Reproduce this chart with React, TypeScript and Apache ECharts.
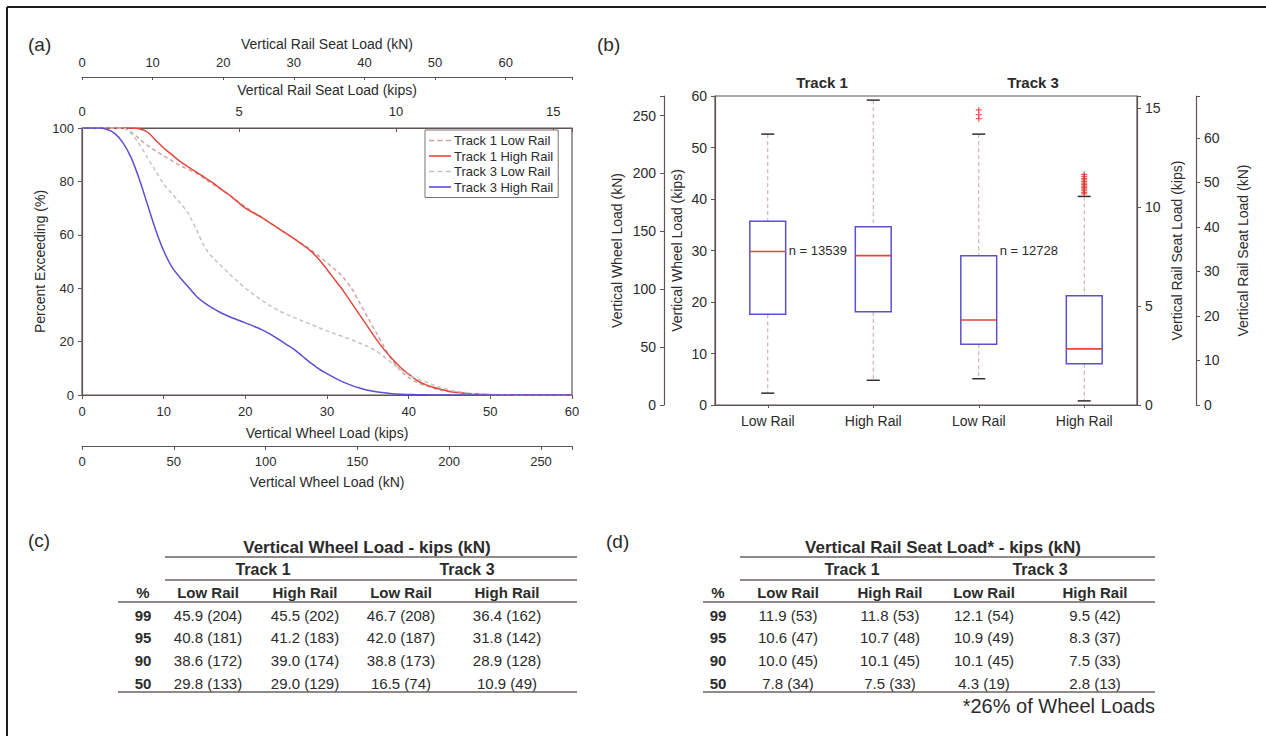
import React, { useEffect, useRef } from 'react';
import * as echarts from 'echarts';

// Unit conversions used by the secondary axes
const KN_PER_KIP = 4.448;
const SEAT_SHARE = 0.26; // rail seat load as a share of the wheel load
const WHEEL_MAX_KIPS = 60;

// (a) exceedance curves, sampled every kip: [wheel load (kips), percent exceeding]
const track1LowRail: [number, number][] = [
  [0, 100], [1, 100], [2, 100], [3, 100], [4, 100], [5, 100], [6, 98.5], [7, 96], [8, 93.5],
  [9, 91.5], [10, 89.5], [11, 87.8], [12, 86], [13, 84.5], [14, 83], [15, 81], [16, 79],
  [17, 77], [18, 75], [19, 72.7], [20, 70.5], [21, 68.5], [22, 66.5], [23, 64.5], [24, 62.5],
  [25, 60.5], [26, 58.5], [27, 56.5], [28, 54.5], [29, 52], [30, 49.5], [31, 47], [32, 44],
  [33, 40], [34, 34.5], [35, 29], [36, 23.5], [37, 18], [38, 13], [39, 9.2], [40, 6.5],
  [41, 4.8], [42, 3.6], [43, 2.6], [44, 1.8], [45, 1.3], [46, 0.95], [47, 0.7], [48, 0.45],
  [49, 0.25], [50, 0.1], [51, 0.05], [52, 0.02], [53, 0], [54, 0], [55, 0], [60, 0],
];
const track1HighRail: [number, number][] = [
  [0, 100], [1, 100], [2, 100], [3, 100], [4, 100], [5, 100], [6, 100], [7, 99.7], [8, 98.5],
  [9, 95.5], [10, 92.5], [11, 90], [12, 87.5], [13, 85.4], [14, 83.5], [15, 81.5], [16, 79.5],
  [17, 77.2], [18, 75], [19, 72.5], [20, 70], [21, 68.2], [22, 66.5], [23, 64.5], [24, 62.5],
  [25, 60.5], [26, 58.5], [27, 56.3], [28, 54], [29, 50.8], [30, 47], [31, 43], [32, 39],
  [33, 34.5], [34, 30], [35, 25.5], [36, 21], [37, 17], [38, 13.5], [39, 10.3], [40, 7.8],
  [41, 5.5], [42, 4], [43, 2.9], [44, 2.1], [45, 1.3], [46, 0.9], [47, 0.6], [48, 0.4],
  [49, 0.25], [50, 0.15], [51, 0.08], [52, 0.04], [53, 0], [54, 0], [55, 0], [60, 0],
];
const track3LowRail: [number, number][] = [
  [0, 100], [1, 100], [2, 100], [3, 100], [4, 100], [5, 100], [6, 98], [7, 94], [8, 89],
  [9, 84], [10, 79], [11, 75.5], [12, 72], [13, 68], [14, 62], [15, 55.5], [16, 51.5],
  [17, 48.5], [18, 45.5], [19, 42.7], [20, 40], [21, 37.7], [22, 35.5], [23, 33.5], [24, 31.7],
  [25, 30.3], [26, 29], [27, 27.7], [28, 26.5], [29, 25.2], [30, 24], [31, 22.9], [32, 21.8],
  [33, 20.7], [34, 19.5], [35, 18.1], [36, 16.5], [37, 14.3], [38, 11.8], [39, 9.6], [40, 7.5],
  [41, 6.1], [42, 5], [43, 3.8], [44, 2.7], [45, 1.9], [46, 1.3], [47, 0.9], [48, 0.5],
  [49, 0.3], [50, 0.2], [51, 0.1], [52, 0.05], [53, 0], [54, 0], [55, 0], [60, 0],
];
const track3HighRail: [number, number][] = [
  [0, 100], [1, 100], [2, 100], [3, 99.5], [4, 98], [5, 94.5], [6, 89], [7, 81], [8, 71.5],
  [9, 62], [10, 54], [11, 48], [12, 44], [13, 40.5], [14, 37], [15, 34.5], [16, 32.5],
  [17, 30.8], [18, 29.4], [19, 28.2], [20, 27], [21, 25.8], [22, 24.5], [23, 22.9], [24, 21],
  [25, 19], [26, 17], [27, 14.5], [28, 12], [29, 9.8], [30, 8], [31, 6.3], [32, 4.8],
  [33, 3.6], [34, 2.6], [35, 1.8], [36, 1.2], [37, 0.8], [38, 0.5], [39, 0.3], [40, 0.2],
  [41, 0.1], [42, 0.05], [43, 0], [44, 0], [45, 0], [50, 0], [55, 0], [60, 0],
];
const curveNames = ['Track 1 Low Rail', 'Track 1 High Rail', 'Track 3 Low Rail', 'Track 3 High Rail'];

// (b) box plots in kips: [min, Q1, median, Q3, max]
const boxCategories = ['Track 1 Low Rail', 'Track 1 High Rail', 'Track 3 Low Rail', 'Track 3 High Rail'];
const boxStats: number[][] = [
  [2.3, 17.6, 29.8, 35.7, 52.6],
  [4.8, 18.1, 29.0, 34.6, 59.2],
  [5.1, 11.8, 16.5, 29.0, 52.6],
  [0.8, 8.0, 10.9, 21.2, 40.5],
];
const sampleSizes = ['n = 13539', '', 'n = 12728', ''];
const sampleLabelLevel = 30; // kips
const outliers: [number, number][] = [
  [2, 55.6], [2, 56.4], [2, 57.3],
  [3, 41.0], [3, 41.3], [3, 41.6], [3, 41.9], [3, 42.2], [3, 42.5], [3, 42.8], [3, 43.1],
  [3, 43.4], [3, 43.7], [3, 44.0], [3, 44.4], [3, 44.8],
];

// (c) and (d) percentile tables
const percentiles = ['99', '95', '90', '50'];
const tableTracks = ['Track 1', 'Track 3'];
const tableRails = ['Low Rail', 'High Rail', 'Low Rail', 'High Rail'];
const wheelLoadRows = [
  ['45.9 (204)', '45.5 (202)', '46.7 (208)', '36.4 (162)'],
  ['40.8 (181)', '41.2 (183)', '42.0 (187)', '31.8 (142)'],
  ['38.6 (172)', '39.0 (174)', '38.8 (173)', '28.9 (128)'],
  ['29.8 (133)', '29.0 (129)', '16.5 (74)', '10.9 (49)'],
];
const seatLoadRows = [
  ['11.9 (53)', '11.8 (53)', '12.1 (54)', '9.5 (42)'],
  ['10.6 (47)', '10.7 (48)', '10.9 (49)', '8.3 (37)'],
  ['10.0 (45)', '10.1 (45)', '10.1 (45)', '7.5 (33)'],
  ['7.8 (34)', '7.5 (33)', '4.3 (19)', '2.8 (13)'],
];

const FONT = '"Liberation Sans", Arial, sans-serif';
const AXIS = '#5f5553';
const TEXT = '#2b2b2b';
const RED = '#e4473d';
const BLUE = '#5b50d2';

// legend swatches: a plain stroke and a dashed stroke
const SOLID_ICON = 'path://M0,0H22V1.6H0Z';
const DASHED_ICON = 'path://M0,0H5V1.6H0Z M8,0H13V1.6H8Z M16,0H21V1.6H16Z';

const stepFormatter = (step: number) => (v: number) =>
  Math.abs(v / step - Math.round(v / step)) < 1e-6 ? String(Math.round(v)) : '';

function valueAxis(extra: any) {
  return {
    type: 'value',
    splitLine: { show: false },
    axisLine: { show: true, lineStyle: { color: AXIS, width: 1.2 } },
    axisTick: { show: true, length: 4, lineStyle: { color: AXIS } },
    axisLabel: { color: TEXT, fontSize: 13, fontFamily: FONT },
    nameTextStyle: { color: TEXT, fontSize: 14, fontFamily: FONT },
    nameLocation: 'middle',
    ...extra,
  };
}

function txt(x: number, y: number, text: string, size: number, opts: any = {}) {
  return {
    type: 'text',
    x,
    y,
    silent: true,
    style: {
      text,
      fill: TEXT,
      font: `${opts.bold ? 'bold ' : ''}${size}px ${FONT}`,
      align: opts.align || 'center',
      verticalAlign: 'middle',
    },
  };
}

function hline(x1: number, x2: number, y: number) {
  return {
    type: 'line',
    silent: true,
    shape: { x1, y1: y, x2, y2: y },
    style: { stroke: '#6a6260', lineWidth: 1.5 },
  };
}

type TableLayout = {
  title: string;
  titleX: number;
  pctX: number;
  colX: number[];
  trackX: number[];
  innerLeft: number;
  outerLeft: number;
  right: number;
  rows: string[][];
};

function buildTable(t: TableLayout) {
  const els: any[] = [];
  const rowY = [615, 637, 660, 683];
  els.push(txt(t.titleX, 547, t.title, 17, { bold: true }));
  els.push(hline(t.innerLeft, t.right, 557));
  tableTracks.forEach((name, i) => els.push(txt(t.trackX[i], 569, name, 16, { bold: true })));
  els.push(hline(t.innerLeft, t.right, 580));
  els.push(txt(t.pctX, 592, '%', 15, { bold: true }));
  tableRails.forEach((name, i) => els.push(txt(t.colX[i], 592, name, 15, { bold: true })));
  els.push(hline(t.outerLeft, t.right, 602));
  percentiles.forEach((p, r) => {
    els.push(txt(t.pctX, rowY[r], p, 15, { bold: true }));
    t.rows[r].forEach((cell, c) => els.push(txt(t.colX[c], rowY[r], cell, 15)));
  });
  els.push(hline(t.outerLeft, t.right, 692));
  return els;
}

export default function App() {
  const ref = useRef<HTMLDivElement>(null);

  useEffect(() => {
    document.body.style.margin = '0';
    if (!ref.current) return;
    const chart = echarts.init(ref.current, undefined, { renderer: 'svg' });

    const wheelMaxKN = WHEEL_MAX_KIPS * KN_PER_KIP;
    const seatMaxKips = WHEEL_MAX_KIPS * SEAT_SHARE;
    const seatMaxKN = seatMaxKips * KN_PER_KIP;

    const curveStyles = [
      { color: '#cfa3a3', type: [4, 3], icon: DASHED_ICON },
      { color: RED, type: 'solid', icon: SOLID_ICON },
      { color: '#c4c4c4', type: [4, 3], icon: DASHED_ICON },
      { color: BLUE, type: 'solid', icon: SOLID_ICON },
    ];
    const curves = [track1LowRail, track1HighRail, track3LowRail, track3HighRail];

    const option: any = {
      animation: false,
      backgroundColor: '#ffffff',
      textStyle: { fontFamily: FONT },
      grid: [
        { left: 82, top: 128, width: 490, height: 267, show: true, borderColor: AXIS, borderWidth: 1.2, backgroundColor: 'transparent' },
        { left: 715, top: 96, width: 422, height: 309, show: true, borderColor: AXIS, borderWidth: 1.2, backgroundColor: 'transparent' },
      ],
      xAxis: [
        valueAxis({
          gridIndex: 0, position: 'bottom', min: 0, max: WHEEL_MAX_KIPS, interval: 10,
          name: 'Vertical Wheel Load (kips)', nameGap: 31,
          axisLabel: { color: TEXT, fontSize: 13, fontFamily: FONT, margin: 10 },
        }),
        valueAxis({
          gridIndex: 0, position: 'bottom', offset: 51, min: 0, max: wheelMaxKN, interval: 50,
          name: 'Vertical Wheel Load (kN)', nameGap: 29,
          axisLabel: { color: TEXT, fontSize: 13, fontFamily: FONT, margin: 9, formatter: stepFormatter(50) },
        }),
        valueAxis({
          gridIndex: 0, position: 'top', min: 0, max: seatMaxKips, interval: 5,
          name: 'Vertical Rail Seat Load (kips)', nameGap: 31,
          axisTick: { show: true, length: 4, inside: true, lineStyle: { color: AXIS } },
          axisLabel: { color: TEXT, fontSize: 13, fontFamily: FONT, margin: 10, formatter: stepFormatter(5) },
        }),
        valueAxis({
          gridIndex: 0, position: 'top', offset: 51, min: 0, max: seatMaxKN, interval: 10,
          name: 'Vertical Rail Seat Load (kN)', nameGap: 26,
          axisTick: { show: true, length: 3, inside: true, lineStyle: { color: AXIS } },
          axisLabel: { color: TEXT, fontSize: 13, fontFamily: FONT, margin: 8, formatter: stepFormatter(10) },
        }),
        {
          type: 'category', gridIndex: 1, data: boxCategories, boundaryGap: true,
          axisLine: { show: true, lineStyle: { color: AXIS, width: 1.2 } },
          axisTick: { show: true, alignWithLabel: true, length: 3, lineStyle: { color: AXIS } },
          axisLabel: {
            color: TEXT, fontSize: 14, fontFamily: FONT, margin: 9,
            formatter: (v: string) => v.replace(/^Track \d /, ''),
          },
          splitLine: { show: false },
        },
      ],
      yAxis: [
        valueAxis({
          gridIndex: 0, min: 0, max: 100, interval: 20,
          name: 'Percent Exceeding (%)', nameGap: 35, nameRotate: 90,
          axisLabel: { color: TEXT, fontSize: 13, fontFamily: FONT, margin: 8 },
        }),
        valueAxis({
          gridIndex: 1, position: 'left', min: 0, max: WHEEL_MAX_KIPS, interval: 10,
          name: 'Vertical Wheel Load (kips)', nameGap: 31, nameRotate: 90,
          axisLabel: { color: TEXT, fontSize: 14, fontFamily: FONT, margin: 8 },
        }),
        valueAxis({
          gridIndex: 1, position: 'left', offset: 51, min: 0, max: wheelMaxKN, interval: 50,
          name: 'Vertical Wheel Load (kN)', nameGap: 40, nameRotate: 90,
          axisLabel: { color: TEXT, fontSize: 14, fontFamily: FONT, margin: 8, formatter: stepFormatter(50) },
        }),
        valueAxis({
          gridIndex: 1, position: 'right', min: 0, max: seatMaxKips, interval: 5,
          name: 'Vertical Rail Seat Load (kips)', nameGap: 33, nameRotate: 90,
          axisLabel: { color: TEXT, fontSize: 14, fontFamily: FONT, margin: 8, formatter: stepFormatter(5) },
        }),
        valueAxis({
          gridIndex: 1, position: 'right', offset: 59, min: 0, max: seatMaxKN, interval: 10,
          name: 'Vertical Rail Seat Load (kN)', nameGap: 40, nameRotate: 90,
          axisLabel: { color: TEXT, fontSize: 14, fontFamily: FONT, margin: 8, formatter: stepFormatter(10) },
        }),
      ],
      legend: {
        data: curveNames.map((name, i) => ({ name, icon: curveStyles[i].icon })),
        orient: 'vertical',
        left: 425,
        top: 130,
        itemWidth: 22,
        itemHeight: 8,
        itemGap: 2.5,
        padding: [4, 5, 4, 4],
        borderColor: '#7a7270',
        borderWidth: 1,
        backgroundColor: '#ffffff',
        textStyle: { color: TEXT, fontSize: 13, fontFamily: FONT, padding: [0, 0, 0, -2] },
      },
      series: [
        ...curves.map((data, i) => ({
          type: 'line',
          name: curveNames[i],
          xAxisIndex: 0,
          yAxisIndex: 0,
          data,
          smooth: 0.3,
          symbol: 'none',
          lineStyle: { color: curveStyles[i].color, width: 1.5, type: curveStyles[i].type },
          itemStyle: { color: curveStyles[i].color },
          z: i === 3 ? 4 : 3,
        })),
        {
          type: 'custom',
          name: 'boxes',
          xAxisIndex: 4,
          yAxisIndex: 1,
          data: boxStats.map((s, i) => [i, ...s]),
          encode: { x: 0, y: [1, 2, 3, 4, 5] },
          renderItem: (params: any, api: any) => {
            const idx = api.value(0);
            const lo = api.coord([idx, api.value(1)]);
            const q1 = api.coord([idx, api.value(2)]);
            const med = api.coord([idx, api.value(3)]);
            const q3 = api.coord([idx, api.value(4)]);
            const hi = api.coord([idx, api.value(5)]);
            const band = api.size([1, 0])[0];
            const half = band * 0.17;
            const cap = 6.5;
            const x = lo[0];
            const whisker = { stroke: '#c9a3a3', lineWidth: 1, lineDash: [4, 3] };
            const capStyle = { stroke: '#2e2e2e', lineWidth: 1.5 };
            const children: any[] = [
              { type: 'line', shape: { x1: x, y1: hi[1], x2: x, y2: q3[1] }, style: whisker },
              { type: 'line', shape: { x1: x, y1: q1[1], x2: x, y2: lo[1] }, style: whisker },
              { type: 'line', shape: { x1: x - cap, y1: hi[1], x2: x + cap, y2: hi[1] }, style: capStyle },
              { type: 'line', shape: { x1: x - cap, y1: lo[1], x2: x + cap, y2: lo[1] }, style: capStyle },
              {
                type: 'rect',
                shape: { x: x - half, y: q3[1], width: half * 2, height: q1[1] - q3[1] },
                style: { fill: 'none', stroke: BLUE, lineWidth: 1.5 },
              },
              {
                type: 'line',
                shape: { x1: x - half, y1: med[1], x2: x + half, y2: med[1] },
                style: { stroke: RED, lineWidth: 1.6 },
              },
            ];
            const n = sampleSizes[params.dataIndex];
            if (n) {
              const at = api.coord([idx, sampleLabelLevel]);
              children.push({
                type: 'text',
                x: x + half + 3,
                y: at[1],
                style: { text: n, fill: TEXT, font: `13px ${FONT}`, align: 'left', verticalAlign: 'middle' },
              });
            }
            return { type: 'group', children };
          },
          z: 3,
        },
        {
          type: 'scatter',
          name: 'outliers',
          xAxisIndex: 4,
          yAxisIndex: 1,
          data: outliers,
          symbol: 'path://M4,0H6V4H10V6H6V10H4V6H0V4H4Z',
          symbolSize: 6,
          itemStyle: { color: '#e0302b' },
          z: 4,
        },
      ],
      graphic: [
        // figure frame
        { type: 'line', silent: true, shape: { x1: 7, y1: 7, x2: 7, y2: 736 }, style: { stroke: '#1e1e1e', lineWidth: 2 } },
        { type: 'line', silent: true, shape: { x1: 7, y1: 7, x2: 1266, y2: 7 }, style: { stroke: '#1e1e1e', lineWidth: 2 } },
        txt(28, 44, '(a)', 19, { align: 'left' }),
        txt(597, 44, '(b)', 19, { align: 'left' }),
        txt(28, 540, '(c)', 19, { align: 'left' }),
        txt(606, 541, '(d)', 19, { align: 'left' }),
        txt(822, 82, 'Track 1', 15, { bold: true }),
        txt(1033, 82, 'Track 3', 15, { bold: true }),
        ...buildTable({
          title: 'Vertical Wheel Load - kips (kN)',
          titleX: 367,
          pctX: 143,
          colX: [208, 305, 401, 507],
          trackX: [263, 467],
          innerLeft: 165,
          outerLeft: 118,
          right: 577,
          rows: wheelLoadRows,
        }),
        ...buildTable({
          title: 'Vertical Rail Seat Load* - kips (kN)',
          titleX: 943,
          pctX: 718,
          colX: [788, 890, 984, 1095],
          trackX: [852, 1040],
          innerLeft: 740,
          outerLeft: 703,
          right: 1155,
          rows: seatLoadRows,
        }),
        txt(1155, 706, '*26% of Wheel Loads', 20, { align: 'right' }),
      ],
    };

    chart.setOption(option);
    return () => chart.dispose();
  }, []);

  return <div ref={ref} style={{ width: 1266, height: 736 }} />;
}
